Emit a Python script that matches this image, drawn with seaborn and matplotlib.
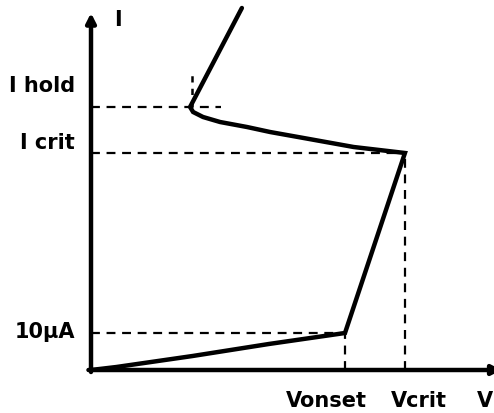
import matplotlib
matplotlib.use("Agg")
import matplotlib.pyplot as plt
import seaborn as sns
import pandas as pd

sns.set_style("white")
plt.rcParams['font.family'] = ['DejaVu Sans']

# Schematic I-V characteristic (arbitrary units)
V_onset = 1.0
V_crit = 1.236
I_10uA = 0.37
I_crit = 2.17
I_hold = 2.63

curve_V = [0.0, 0.1, 0.4, 0.7, 1.0, 1.236, 1.034, 0.837, 0.705, 0.614, 0.508, 0.441, 0.402, 0.39, 0.594]
curve_I = [0.0, 0.03, 0.14, 0.26, 0.37, 2.17, 2.23, 2.32, 2.38, 2.43, 2.48, 2.53, 2.58, 2.63, 3.62]

tick_labels_I = ["10\u00b5A", "I crit", "I hold"]
tick_labels_V = ["Vonset", "Vcrit"]

df = pd.DataFrame({"V": curve_V, "I": curve_I})

fig = plt.figure(figsize=(4.94, 4.13), dpi=100)
ax = fig.add_axes([0, 0, 1, 1])
ax.set_xlim(-91 / 254, 403 / 254)
ax.set_ylim(-0.43, 3.70)
ax.axis("off")

dash = dict(color="black", lw=1.6, ls=(0, (4, 3)))
# horizontal guides
ax.plot([0, V_onset], [I_10uA, I_10uA], **dash)
ax.plot([0, V_crit], [I_crit, I_crit], **dash)
ax.plot([0, 0.51], [I_hold, I_hold], **dash)
# vertical guides
ax.plot([V_onset, V_onset], [0, I_10uA], **dash)
ax.plot([V_crit, V_crit], [0, I_crit], **dash)
ax.plot([0.398, 0.398], [I_hold, 2.97], color="black", lw=1.8, ls=(0, (2.5, 2.5)))

# curve
sns.lineplot(data=df, x="V", y="I", sort=False, estimator=None, color="black",
             lw=3.2, ax=ax, solid_joinstyle="miter")

# axes with arrows
arrow = dict(arrowstyle="-|>,head_length=0.55,head_width=0.28", lw=3.2, color="black",
             shrinkA=0, shrinkB=0)
ax.annotate("", xy=(0, 3.57), xytext=(0, -0.02), arrowprops=arrow, annotation_clip=False)
ax.annotate("", xy=(403 / 254 + 0.03, 0), xytext=(-0.01, 0), arrowprops=arrow,
            annotation_clip=False)

fs = 15
fkw = dict(fontsize=fs, fontweight="bold", color="black")
ax.text(0.105, 3.50, "I", ha="center", va="center", **fkw)
ax.text(-0.063, 2.84, tick_labels_I[2], ha="right", va="center", **fkw)
ax.text(-0.063, 2.27, tick_labels_I[1], ha="right", va="center", **fkw)
ax.text(-0.063, 0.38, tick_labels_I[0], ha="right", va="center", **fkw)
ax.text(0.925, -0.31, tick_labels_V[0], ha="center", va="center", **fkw)
ax.text(1.29, -0.31, tick_labels_V[1], ha="center", va="center", **fkw)
ax.text(1.583, -0.31, "V", ha="right", va="center", **fkw)

fig.savefig("out.png", dpi=100)
